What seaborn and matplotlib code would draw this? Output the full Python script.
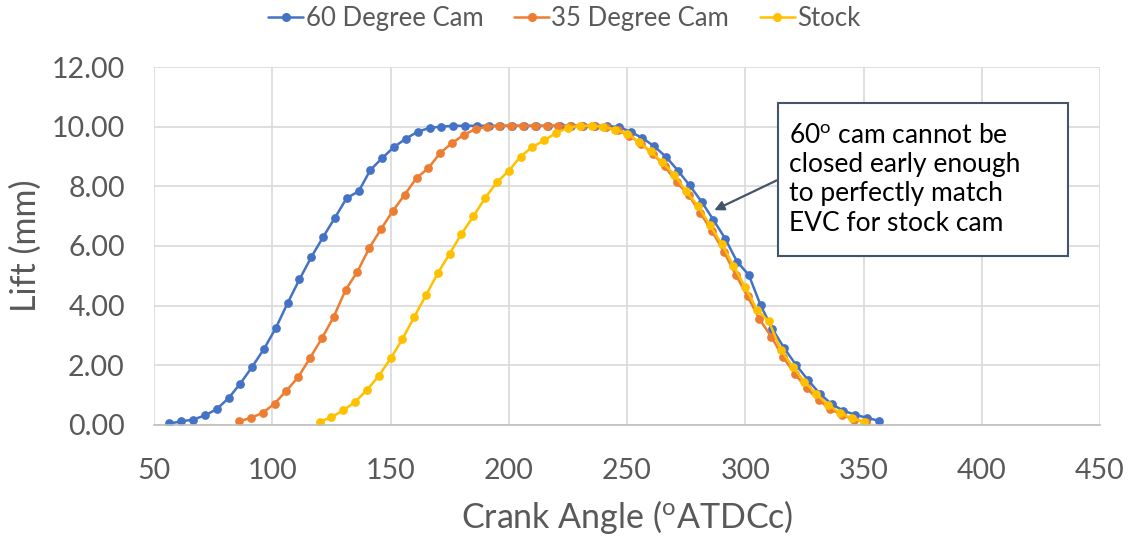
import numpy as np
import pandas as pd
import matplotlib
matplotlib.use("Agg")
import matplotlib.pyplot as plt
from matplotlib.lines import Line2D
from matplotlib.patches import Rectangle
import seaborn as sns

# Crank angle (deg ATDC) and valve lift (mm) for each cam profile
angle_60 = [56.5 + 5 * i for i in range(61)]
lift_60 = [0.05, 0.12, 0.18, 0.32, 0.53, 0.90, 1.39, 1.95, 2.55, 3.25,
           4.09, 4.88, 5.63, 6.30, 6.95, 7.61, 7.83, 8.55, 8.95, 9.32,
           9.60, 9.83, 9.96, 10.00, 10.03, 10.03, 10.03, 10.03, 10.03, 10.03,
           10.03, 10.03, 10.03, 10.03, 10.03, 10.03, 10.03, 10.02, 9.99, 9.83,
           9.62, 9.34, 8.99, 8.53, 8.03, 7.49, 6.88, 6.25, 5.48, 5.03,
           4.01, 3.22, 2.57, 2.01, 1.51, 1.05, 0.70, 0.48, 0.34, 0.24,
           0.14]

angle_35 = [86 + 5 * i for i in range(54)]
lift_35 = [0.12, 0.24, 0.41, 0.72, 1.15, 1.61, 2.25, 2.91, 3.63, 4.53,
           5.14, 5.93, 6.57, 7.18, 7.72, 8.28, 8.61, 9.12, 9.45, 9.73,
           9.92, 10.00, 10.03, 10.03, 10.03, 10.03, 10.03, 10.03, 10.03, 10.03,
           10.03, 10.00, 9.88, 9.70, 9.42, 9.08, 8.67, 8.13, 7.72, 7.10,
           6.49, 5.80, 5.03, 4.31, 3.55, 2.96, 2.27, 1.71, 1.23, 0.84,
           0.53, 0.34, 0.17, 0.11]

angle_stock = [120 + 5 * i for i in range(47)]
lift_stock = [0.11, 0.26, 0.49, 0.77, 1.17, 1.64, 2.23, 2.87, 3.62, 4.35,
              5.09, 5.74, 6.41, 6.99, 7.61, 8.14, 8.52, 9.00, 9.32, 9.54,
              9.79, 9.96, 10.03, 10.03, 10.00, 9.90, 9.77, 9.49, 9.17, 8.80,
              8.39, 7.83, 7.35, 6.71, 6.07, 5.34, 4.61, 3.86, 3.47, 2.52,
              1.96, 1.45, 1.04, 0.67, 0.41, 0.22, 0.11]

series_names = ["60 Degree Cam", "35 Degree Cam", "Stock"]
series_colors = ["#4472C4", "#ED7D31", "#FFC000"]

x_ticks = [50, 100, 150, 200, 250, 300, 350, 400, 450]
y_ticks = [0, 2, 4, 6, 8, 10, 12]

df = pd.concat([
    pd.DataFrame({"angle": angle_60, "lift": lift_60, "cam": series_names[0]}),
    pd.DataFrame({"angle": angle_35, "lift": lift_35, "cam": series_names[1]}),
    pd.DataFrame({"angle": angle_stock, "lift": lift_stock, "cam": series_names[2]}),
], ignore_index=True)

sns.set_theme(style="white")
plt.rcParams["font.family"] = ["Lato", "DejaVu Sans"]
plt.rcParams["mathtext.fontset"] = "custom"
plt.rcParams["mathtext.rm"] = "Lato"
plt.rcParams["mathtext.it"] = "Lato:italic"

text_grey = "#595959"
grid_grey = "#D9D9D9"

fig = plt.figure(figsize=(11.36, 5.37), dpi=100)
ax = fig.add_axes([0.1356, 0.2086, 0.8327, 0.6666])

sns.lineplot(data=df, x="angle", y="lift", hue="cam", hue_order=series_names,
             palette=series_colors, marker="o", markersize=6.3,
             markeredgewidth=0, linewidth=1.8, sort=False, legend=False,
             estimator=None, ax=ax)

ax.set_xlim(50, 450)
ax.set_ylim(0, 12)
ax.set_xticks(x_ticks)
ax.set_yticks(y_ticks)
ax.set_yticklabels([f"{v:.2f}" for v in y_ticks])
ax.tick_params(axis="both", labelsize=20.5, colors=text_grey, length=0)
ax.tick_params(axis="x", pad=24)
ax.tick_params(axis="y", pad=21)
ax.grid(True, color=grid_grey, linewidth=1.2)
ax.set_axisbelow(True)
for side in ["top", "right", "left"]:
    ax.spines[side].set_visible(False)
ax.spines["bottom"].set_color("#BFBFBF")
ax.spines["bottom"].set_linewidth(1.2)

ax.set_xlabel(r"Crank Angle ($^{\mathrm{o}}$ATDCc)", fontsize=24.5,
              color=text_grey, labelpad=10)
ax.set_ylabel("Lift (mm)", fontsize=24.5, color=text_grey, labelpad=7)

# Legend above the plot
handles = [Line2D([], [], color=c, marker="o", markersize=5.5, linewidth=1.8)
           for c in series_colors]
fig.legend(handles, series_names, loc="center", bbox_to_anchor=(0.497, 0.966),
           ncol=3, frameon=False, fontsize=18.5, handlelength=1.35,
           handletextpad=0.1, columnspacing=1.2, labelcolor=text_grey)

# Callout box with arrow
box = Rectangle((314.0, 5.67), 122.3, 5.13, facecolor="white",
                edgecolor="#44546A", linewidth=1.5, zorder=5)
ax.add_patch(box)
ax.text(318.5, 8.24,
        "60$^{\\mathrm{o}}$ cam cannot be\nclosed early enough\nto perfectly match\nEVC for stock cam",
        fontsize=19, color="black", ha="left", va="center", linespacing=1.22,
        zorder=6)
ax.annotate("", xy=(286.9, 7.2), xytext=(313.3, 8.2),
            arrowprops=dict(arrowstyle="-|>", color="#44546A", lw=1.6,
                            mutation_scale=14, shrinkA=0, shrinkB=0),
            zorder=6)

fig.savefig("out.png", dpi=100)
